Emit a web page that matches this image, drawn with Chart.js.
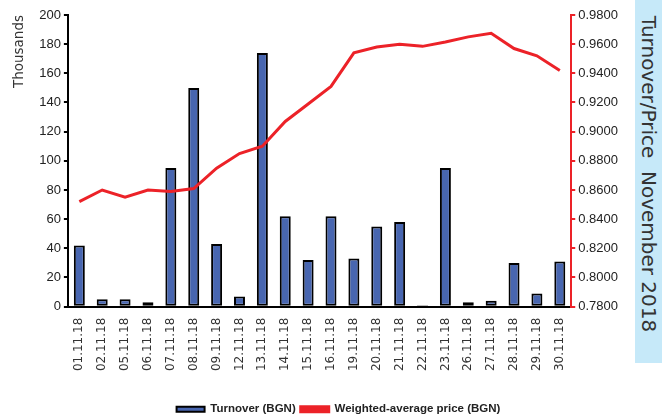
<!DOCTYPE html>
<html>
<head>
<meta charset="utf-8">
<script src="https://cdn.jsdelivr.net/npm/chart.js@4"></script>
<style>
  body { margin: 0; background: #fff; }
  #wrap { position: absolute; left: 0; top: 0; width: 676px; height: 419px; }
  #side {
    position: absolute; left: 635px; top: 0; width: 27px; height: 363px;
    background: #c6e9f9;
  }
  #side span {
    position: absolute; left: 50%; top: 48%;
    transform: translate(-50%, -50%) rotate(90deg);
    white-space: pre; font-family: "DejaVu Sans", sans-serif; font-size: 20px; color: #333;
  }
</style>
</head>
<body>
<div id="side"><span>Turnover/Price  November 2018</span></div>
<div id="wrap"><canvas id="chart"></canvas></div>
<script>
const days = ["01.11.18", "02.11.18", "05.11.18", "06.11.18", "07.11.18", "08.11.18", "09.11.18",
  "12.11.18", "13.11.18", "14.11.18", "15.11.18", "16.11.18", "19.11.18", "20.11.18", "21.11.18",
  "22.11.18", "23.11.18", "26.11.18", "27.11.18", "28.11.18", "29.11.18", "30.11.18"];

// turnover in thousands of BGN
const turnover = [42, 5, 5, 3, 95, 150, 43, 7, 174, 62, 32, 62, 33, 55, 58, 1, 95, 3, 4, 30, 9, 31];

const price = [0.852, 0.860, 0.855, 0.860, 0.859, 0.861, 0.875, 0.885, 0.890, 0.907, 0.919, 0.931,
  0.954, 0.958, 0.960, 0.9585, 0.9615, 0.965, 0.9675, 0.957, 0.952, 0.942];

const sans = "'Liberation Sans', Arial, sans-serif";

// legend sits a bit right of centre in the original
const legendShift = {
  id: "legendShift",
  afterLayout(chart) {
    if (chart.legend) {
      chart.legend.left += 24;
      chart.legend.right += 24;
    }
  }
};

new Chart(document.getElementById("chart"), {
  plugins: [legendShift],
  data: {
    labels: days,
    datasets: [
      {
        type: "line",
        label: "Weighted-average price (BGN)",
        data: price,
        yAxisID: "y2",
        borderColor: "#ec2228",
        backgroundColor: "#ec2228",
        borderWidth: 3,
        pointRadius: 0,
        tension: 0
      },
      {
        type: "bar",
        label: "Turnover (BGN)",
        data: turnover,
        yAxisID: "y",
        backgroundColor: "#4866b0",
        borderColor: "#000",
        borderWidth: 2,
        borderSkipped: false,
        barPercentage: 0.48,
        categoryPercentage: 1
      }
    ]
  },
  options: {
    responsive: true,
    maintainAspectRatio: false,
    animation: false,
    layout: { padding: { top: 15, left: 8, right: 55, bottom: -6 } },
    plugins: {
      tooltip: { enabled: false },
      legend: {
        position: "bottom",
        reverse: true,
        labels: {
          boxWidth: 28,
          boxHeight: 5,
          padding: 5,
          color: "#222",
          font: { family: sans, size: 11.5, weight: "bold" }
        }
      }
    },
    scales: {
      x: {
        offset: true,
        grid: { display: false },
        border: { color: "#000", width: 2 },
        ticks: {
          minRotation: 90,
          maxRotation: 90,
          color: "#333",
          font: { family: "'DejaVu Sans', sans-serif", size: 12 }
        },
        title: { display: true, text: " ", padding: { top: 0, bottom: 10 }, font: { size: 12 } }
      },
      y: {
        position: "left",
        min: 0,
        max: 200,
        ticks: { stepSize: 20, color: "#222", font: { family: sans, size: 13 } },
        grid: { drawOnChartArea: false, color: "#000", lineWidth: 2, tickLength: 4 },
        border: { color: "#000", width: 2 },
        title: {
          display: true,
          text: "Thousands",
          align: "end",
          color: "#333",
          padding: { top: 3, bottom: 9 },
          font: { family: "'DejaVu Sans', sans-serif", size: 13.5 }
        }
      },
      y2: {
        position: "right",
        min: 0.78,
        max: 0.98,
        ticks: {
          stepSize: 0.02,
          color: "#222",
          font: { family: sans, size: 13 },
          callback: v => v.toFixed(4)
        },
        grid: { drawOnChartArea: false, color: "#ec2228", lineWidth: 2, tickLength: 4 },
        border: { color: "#ec2228", width: 2 }
      }
    }
  }
});
</script>
</body>
</html>
